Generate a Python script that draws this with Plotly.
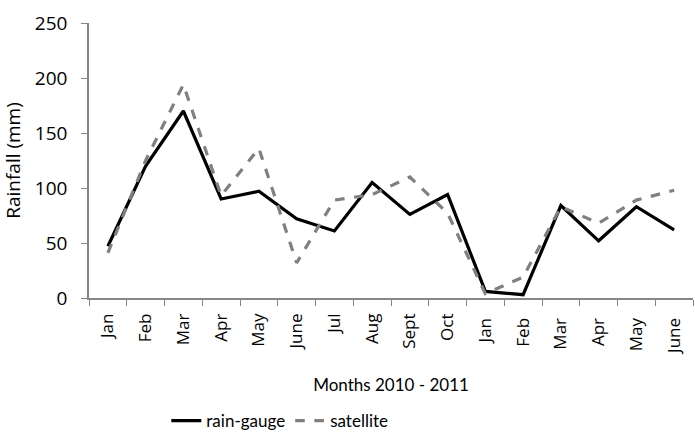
import plotly.graph_objects as go

months = ["Jan", "Feb", "Mar", "Apr", "May", "June", "Jul", "Aug", "Sept", "Oct",
          "Jan ", "Feb ", "Mar ", "Apr ", "May ", "June "]
rain_gauge = [47, 120, 170, 90, 97, 72, 61, 105, 76, 94, 6, 3, 84, 52, 83, 62]
satellite = [41, 125, 194, 93, 136, 32, 89, 94, 110, 77, 4, 19, 83, 68, 89, 98]

axis_grey = '#868686'
wide_font = 'Open Sans'
narrow_font = 'Lato'

fig = go.Figure()
fig.add_trace(go.Scatter(x=months, y=rain_gauge, mode='lines', name='rain-gauge',
                         line=dict(color='black', width=3.2)))
fig.add_trace(go.Scatter(x=months, y=satellite, mode='lines', name='satellite',
                         line=dict(color='#808080', width=3.2, dash='dash')))

fig.update_layout(
    width=695,
    height=439,
    paper_bgcolor='white',
    plot_bgcolor='white',
    font=dict(family=wide_font, size=16, color='black'),
    margin=dict(l=89, r=2, t=23, b=141),
    showlegend=True,
    legend=dict(orientation='h', x=0.128, xanchor='left', yref='container', y=0.0,
                yanchor='bottom', font=dict(family=narrow_font, size=17), itemwidth=30),
    xaxis=dict(
        type='category',
        range=[-0.5, 15.5],
        showline=True, linecolor=axis_grey, linewidth=1.5,
        ticks='outside', tickson='boundaries', ticklen=6, tickcolor=axis_grey,
        tickangle=-90,
        tickfont=dict(size=17),
        ticklabelstandoff=7,
        showgrid=False,
        automargin=False,
        title=dict(text='Months 2010 - 2011', font=dict(family=narrow_font, size=17), standoff=25),
    ),
    yaxis=dict(
        range=[0, 250],
        dtick=50,
        showline=True, linecolor=axis_grey, linewidth=1.5,
        ticks='outside', ticklen=6, tickcolor=axis_grey,
        tickfont=dict(size=19),
        ticklabelstandoff=10,
        showgrid=False,
        zeroline=False,
        automargin=False,
        title=dict(text='Rainfall (mm)', font=dict(size=19), standoff=14),
    ),
)

# drop the default page margin so the chart sits at the window's corner
fig.write_html("out.html", config={'displayModeBar': False},
               post_script="document.body.style.margin='0';")
